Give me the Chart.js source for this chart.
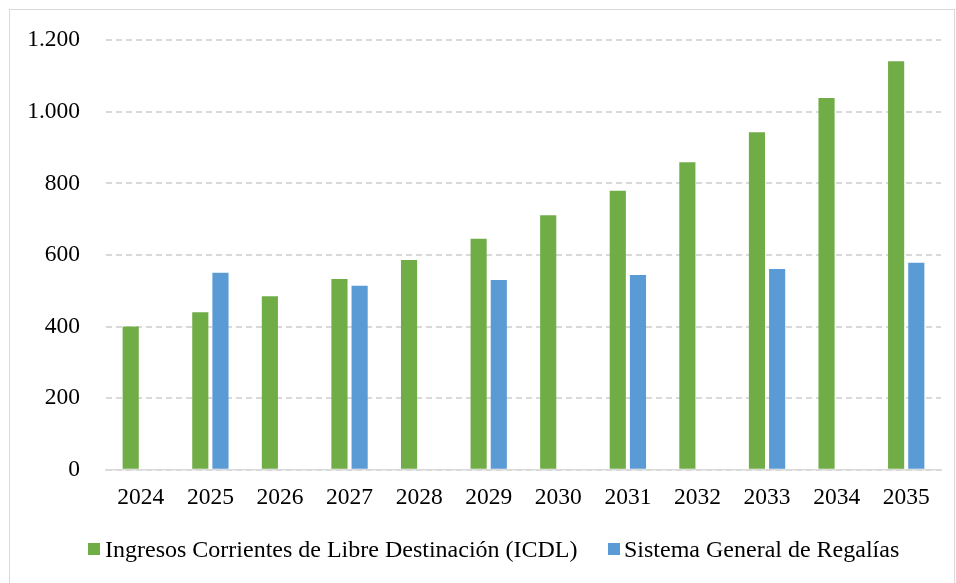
<!DOCTYPE html>
<html>
<head>
<meta charset="utf-8">
<script src="https://cdn.jsdelivr.net/npm/chart.js@4"></script>
<style>
  body { margin: 0; background: #ffffff; }
  #wrap { position: relative; width: 956px; height: 583px; font-family: 'Liberation Serif', 'Times New Roman', serif; }
  #frame { position: absolute; left: 9px; top: 9px; width: 946px; height: 580px; border: 1px solid #d9d9d9; box-sizing: border-box; }
  canvas { position: absolute; left: 0; top: 0; }
  .lg-box { position: absolute; width: 12px; height: 12px; top: 543px; }
  .lg-text { position: absolute; top: 535px; font-size: 24px; line-height: 28px; color: #000; white-space: nowrap; }
</style>
</head>
<body>
<div id="wrap">
  <div id="frame"></div>
  <canvas id="chart" width="956" height="583"></canvas>
  <div id="legend"></div>
</div>
<script>
const years = ["2024", "2025", "2026", "2027", "2028", "2029", "2030", "2031", "2032", "2033", "2034", "2035"];
const icdl = [400, 440, 485, 533, 586, 645, 711, 779, 859, 943, 1038, 1141];
const sgr = [null, 550, null, 514, null, 530, null, 544, null, 561, null, 578];
const seriesNames = ["Ingresos Corrientes de Libre Destinación (ICDL)", "Sistema General de Regalías"];

const GREEN = "#70ad47";
const BLUE = "#5b9bd5";
const GRID = "#d9d9d9";
const FONT = "'Liberation Serif', 'Times New Roman', serif";

const ctx = document.getElementById("chart").getContext("2d");

const chart = new Chart(ctx, {
    type: "bar",
    data: {
        labels: years,
        datasets: [{
            label: seriesNames[0],
            data: icdl,
            backgroundColor: GREEN,
            borderWidth: 0,
            categoryPercentage: 0.58,
            barPercentage: 0.8
        }, {
            label: seriesNames[1],
            data: sgr,
            backgroundColor: BLUE,
            borderWidth: 0,
            categoryPercentage: 0.58,
            barPercentage: 0.8
        }]
    },
    options: {
        responsive: false,
        animation: false,
        layout: {
            padding: { left: 0, right: 15, top: 28, bottom: 57 }
        },
        scales: {
            x: {
                grid: { display: false, drawTicks: false },
                border: { color: GRID, width: 1.5 },
                ticks: {
                    color: "#000000",
                    padding: 14,
                    font: { family: FONT, size: 23.5 }
                }
            },
            y: {
                min: 0,
                max: 1200,
                afterFit: (scale) => { scale.width = 106; },
                border: { display: false, dash: [6, 4] },
                grid: {
                    color: GRID,
                    lineWidth: 2,
                    drawTicks: false
                },
                ticks: {
                    stepSize: 200,
                    color: "#000000",
                    padding: 26,
                    font: { family: FONT, size: 23.5 },
                    callback: (v) => v.toLocaleString("de-DE")
                }
            }
        },
        plugins: {
            legend: { display: false },
            tooltip: { enabled: false }
        }
    }
});

// Legende als HTML
const legendEl = document.getElementById("legend");
const legendPos = [{ box: 88, text: 105 }, { box: 608, text: 624 }];
chart.data.datasets.forEach((ds, i) => {
    const box = document.createElement("div");
    box.className = "lg-box";
    box.style.left = legendPos[i].box + "px";
    box.style.background = ds.backgroundColor;
    const txt = document.createElement("div");
    txt.className = "lg-text";
    txt.style.left = legendPos[i].text + "px";
    txt.textContent = ds.label;
    legendEl.appendChild(box);
    legendEl.appendChild(txt);
});
</script>
</body>
</html>
